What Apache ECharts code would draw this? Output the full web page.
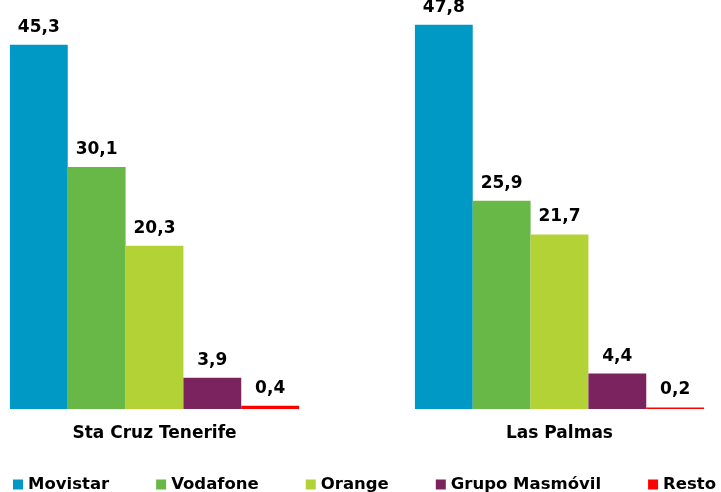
<!DOCTYPE html>
<html><head><meta charset="utf-8">
<script src="https://cdn.jsdelivr.net/npm/echarts@6/dist/echarts.min.js"></script>
<style>html,body{margin:0;padding:0;background:#fff}#c{width:721px;height:492px}</style>
</head><body><div id="c"></div>
<script>
const categories = ['Sta Cruz Tenerife', 'Las Palmas'];
const seriesNames = ['Movistar', 'Vodafone', 'Orange', 'Grupo Masmóvil', 'Resto'];
const movistar = [45.3, 47.8];
const vodafone = [30.1, 25.9];
const orange = [20.3, 21.7];
const masmovil = [3.9, 4.4];
const resto = [0.4, 0.2];
const colors = ['#0098C5', '#67B846', '#B3D236', '#7B235F', '#FF0000'];
const values = [movistar, vodafone, orange, masmovil, resto];
const font = 'DejaVu Sans';
const chart = echarts.init(document.getElementById('c'));
chart.setOption({
  animation: false,
  grid: {left: 154.5, right: 161.5, top: 7, bottom: 83, containLabel: false},
  legend: {
    left: 13, top: 476, width: 708, padding: 0, itemGap: 47, itemWidth: 10, itemHeight: 10,
    icon: 'rect',
    textStyle: {fontFamily: font, fontWeight: 'bold', fontSize: 16.5, color: '#000'},
    data: seriesNames
  },
  xAxis: {
    type: 'category', data: categories, boundaryGap: false,
    axisLine: {show: false}, axisTick: {show: false},
    axisLabel: {fontFamily: font, fontWeight: 'bold', fontSize: 17, color: '#000', margin: 16}
  },
  yAxis: {type: 'value', min: 0, max: 50, show: false, splitLine: {show: false}},
  series: seriesNames.map((n, i) => ({
    name: n, type: 'bar', data: values[i],
    barGap: '0%', barCategoryGap: '28.6%',
    itemStyle: {color: colors[i]},
    label: {
      show: true, position: 'top', distance: 9,
      fontFamily: font, fontWeight: 'bold', fontSize: 17, color: '#000',
      formatter: p => p.value.toFixed(1).replace('.', ',')
    }
  }))
});
</script></body></html>
